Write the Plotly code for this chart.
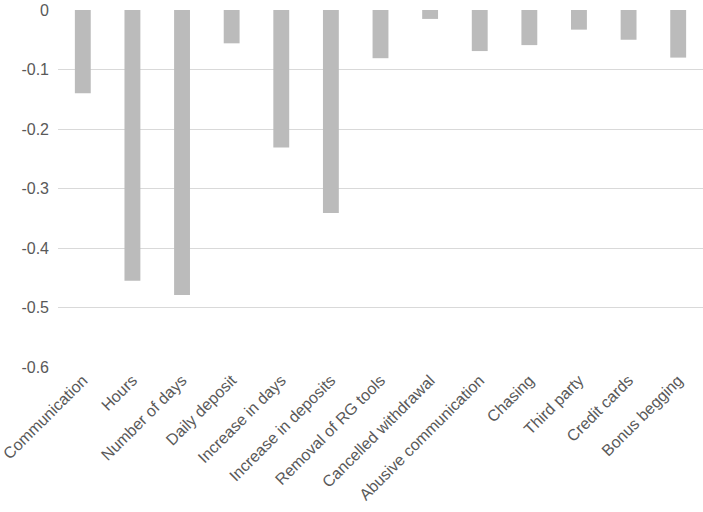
import plotly.graph_objects as go

categories = ["Communication", "Hours", "Number of days", "Daily deposit", "Increase in days",
              "Increase in deposits", "Removal of RG tools", "Cancelled withdrawal",
              "Abusive communication", "Chasing", "Third party", "Credit cards", "Bonus begging"]
values = [-0.140, -0.455, -0.479, -0.056, -0.231, -0.341, -0.081, -0.015, -0.069, -0.059, -0.033, -0.050, -0.080]
y_ticks = [0, -0.1, -0.2, -0.3, -0.4, -0.5, -0.6]
y_tick_labels = ["0", "-0.1", "-0.2", "-0.3", "-0.4", "-0.5", "-0.6"]

fig = go.Figure(go.Bar(x=categories, y=values, marker=dict(color="#BBBBBB", line=dict(width=0))))

fig.update_layout(
    width=703, height=512,
    margin=dict(l=58, r=0, t=10, b=145),
    paper_bgcolor="white", plot_bgcolor="white",
    bargap=0.68,
    showlegend=False,
    font=dict(family="Liberation Sans, Arial, sans-serif", size=16, color="#595959"),
)
fig.update_xaxes(tickangle=-45, automargin=False, showline=False, showgrid=False, ticks="",
                 tickfont=dict(size=16, color="#595959"))
fig.update_yaxes(range=[-0.6, 0], tickvals=y_ticks, ticktext=y_tick_labels, showgrid=True,
                 gridcolor="#D9D9D9", gridwidth=1, zeroline=False, showline=False, ticks="",
                 automargin=False, ticklabelstandoff=8, tickfont=dict(size=16, color="#595959"))

fig.write_html("out.html", config={"displayModeBar": False},
               post_script="document.body.style.margin='0';document.body.style.overflow='hidden';")
